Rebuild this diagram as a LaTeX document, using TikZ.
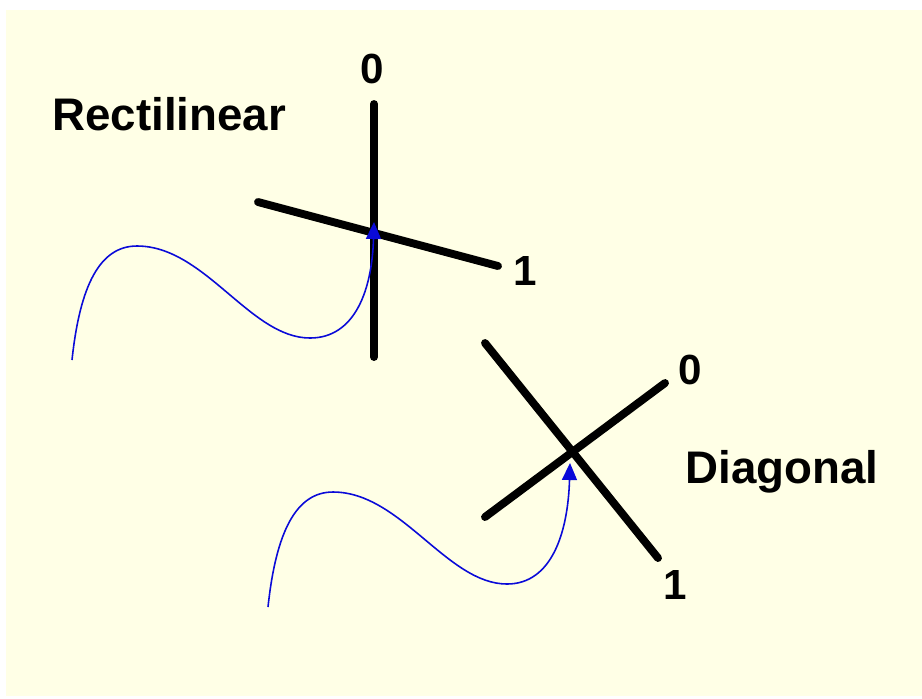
\documentclass[tikz,border=0pt]{standalone}
\usepackage{fontspec}
\setmainfont{Liberation Sans}
\usepackage{xcolor}
\usepackage{tikz}
\usetikzlibrary{arrows.meta}
\definecolor{cpaper}{HTML}{FFFFE6}
\definecolor{cphoton}{HTML}{0A0AD8}

\begin{document}
\begin{tikzpicture}[
  x=0.02cm, y=-0.02cm,
  axis/.style={line width=4.5pt, black, line cap=round},
  photon/.style={line width=0.9pt, cphoton, -{Triangle[length=0.34cm, width=0.3cm]}},
  blbl/.style={font=\fontsize{26}{30}\selectfont\bfseries, inner sep=0pt, anchor=base west},
  dlbl/.style={font=\fontsize{24}{28}\selectfont\bfseries, inner sep=0pt},
]
  % --- nền ---
  \useasboundingbox (0,0) rectangle (922,698);
  \fill[cpaper] (6,10) rectangle (922,696);
  % --- cơ sở thẳng (rectilinear) ---
  \coordinate (r0) at (374,104);
  \coordinate (rb) at (374,357);
  \coordinate (ra) at (258,202);
  \coordinate (r1) at (498,266);
  \draw[axis] (r0) -- (rb);
  \draw[axis] (ra) -- (r1);
  \node[dlbl] (rzero) at (372,69) {0};
  \node[dlbl] (rone) at (525,271) {1};
  \node[blbl] (rname) at (52,130) {Rectilinear};
  % --- cơ sở chéo (diagonal) ---
  \coordinate (da) at (485,343);
  \coordinate (d1) at (658,558);
  \coordinate (db) at (485,517);
  \coordinate (d0) at (665,383);
  \draw[axis] (da) -- (d1);
  \draw[axis] (db) -- (d0);
  \node[dlbl] (dzero) at (690,370) {0};
  \node[dlbl] (done) at (675,585) {1};
  \node[blbl] (dname) at (685,483) {Diagonal};
  % --- photon ---
  \coordinate (p1s) at (72,360);
  \coordinate (p1e) at (374,222);
  \draw[photon] (p1s) .. controls (80,285) and (100,246) .. (137,246)
    .. controls (205,246) and (250,338) .. (310,338)
    .. controls (355,338) and (372,290) .. (p1e);
  \coordinate (p2s) at (268,607);
  \coordinate (p2e) at (570,463);
  \draw[photon] (p2s) .. controls (276,532) and (296,492) .. (333,492)
    .. controls (401,492) and (447,584) .. (507,584)
    .. controls (552,584) and (568,532) .. (p2e);
\end{tikzpicture}
\end{document}
